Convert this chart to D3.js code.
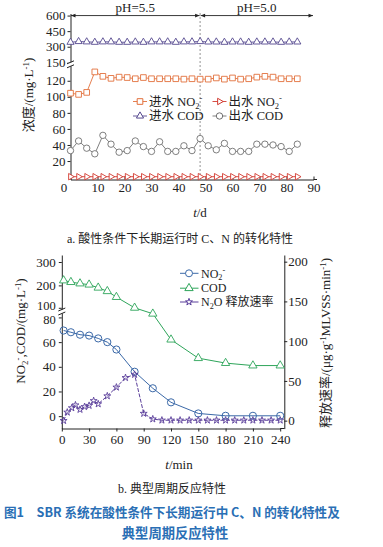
<!DOCTYPE html>
<html><head><meta charset="utf-8">
<script src="https://cdn.jsdelivr.net/npm/d3@7"></script>
<style>body{margin:0;background:#fff}svg{display:block}</style>
</head><body>
<svg id="c" width="383" height="547"></svg>
<script>
// ---------- data: panel a ----------
const days = [0,3,6,9,12,15,18,21,24,27,30,33,36,39,42,45,48,51,54,57,60,63,66,69,72,75,78,81,84];
const infNO2 = [104.5,103,105.5,131,125.5,123,124.5,124,122.5,124,122.5,122.5,122.5,122.5,122,122.5,122,122,123.5,122,123.5,122,122.5,124.5,125.5,124.5,122.5,122.5,122.5];
const effNO2 = [0.5,0.5,0.5,0.5,0.5,0.5,0.5,0.5,0.5,0.5,0.5,0.5,0.5,0.5,0.5,0.5,0.5,0.5,0.5,0.5,0.5,0.5,0.5,0.5,0.5,0.5,0.5,0.5,0.5];
const infCOD = [343,350,347,343,347,347,343,343,346,343,347,347,347,343,347,347,350,346,346,343,346,346,343,346,346,346,343,346,346];
const effCOD = [33,45,36,29,52,41,31,33,45,38,32,44,32,32,39,33,48,39,34,42,32,32,32,41,41,40,38,32,41];
const xTicksA = [0,10,20,30,40,50,60,70,80,90];
const yTicksA = [20,40,60,80,100,120,150,300,450,600];
const phSwitch = 48;
// ---------- data: panel b ----------
const tMin = [2,10,20,30,40,50,60,80,100,120,150,180,210,240];
const no2B = [69.4,68,66,65.3,63,60,54,36,22.6,11.2,2.2,0.3,0.3,0.3];
const codB = [221,214,208,203,190,175,150,104,83,62,47,43,41,41];
const tN2O = [2,6,11,15,20,25,30,35,40,50,60,70,80,90,100,110,120,130,140,150,160,170,180,190,200,210,220,230,240];
const n2oRate = [0,10.5,16,19.6,14,17.5,19,25,21,31,42,54,58,9,2,0.5,0.5,0.5,0.5,0.5,0.5,0.5,0.5,0.5,0.5,0.5,0.5,0.5,0.5];
const xTicksB = [0,30,60,90,120,150,180,210,240];
const yTicksBL = [0,20,40,60,80,100,200,300];
const yTicksBR = [0,50,100,150,200];

const FONT = '"Liberation Serif","Noto Sans CJK SC",serif';
const CJK = '"Liberation Serif","Noto Sans CJK SC",serif';
const TXT = '#222';
const svg = d3.select('#c');

function rich(t, parts, sub){
  let cur = 0;
  const sb = sub==null ? 3 : sub;
  parts.forEach(p=>{
    const [s, k] = Array.isArray(p) ? p : [p, 'n'];
    const tgt = k==='sub' ? sb : (k==='sup' ? -4.5 : 0);
    const ts = t.append('tspan').text(s).attr('dy', tgt-cur);
    if (k!=='n') ts.attr('font-size','0.68em');
    cur = tgt;
  });
  return t;
}
function styleAxis(g){
  g.attr('font-family',FONT).attr('font-size',13);
  g.selectAll('text').attr('fill',TXT);
  g.selectAll('line,path').attr('stroke','#222');
}
function brk(x,y){
  svg.append('rect').attr('x',x-3).attr('y',y-2).attr('width',6).attr('height',4).attr('fill','#fff');
  [y-2,y+2].forEach(yy=>svg.append('line').attr('x1',x-3.5).attr('x2',x+3.5).attr('y1',yy+1.5).attr('y2',yy-1.5).attr('stroke','#222').attr('stroke-width',1));
}

// ================= panel a =================
const xA = d3.scaleLinear().domain([0,90]).range([70.5,313.5]);
const yA = d3.scaleLinear().domain([-3,138,150,620]).range([179.5,66.3,62.3,13.5]);

const gxA = svg.append('g').attr('transform','translate(0,179.5)')
  .call(d3.axisBottom(xA).tickValues(xTicksA).tickSizeInner(-3).tickSizeOuter(0).tickPadding(3));
styleAxis(gxA);
gxA.selectAll('.tick').filter(d=>d===0).select('text').attr('x',-7);
svg.append('line').attr('x1',313.5).attr('x2',317).attr('y1',179.5).attr('y2',179.5).attr('stroke','#222');

const gyA = svg.append('g').attr('transform','translate(70.5,0)')
  .call(d3.axisLeft(yA).tickValues(yTicksA).tickSize(3).tickSizeOuter(0).tickPadding(2));
styleAxis(gyA);
brk(70.5,64.3);

// dashed switch line
svg.append('line').attr('x1',xA(phSwitch)).attr('x2',xA(phSwitch)).attr('y1',13).attr('y2',179)
  .attr('stroke','#777').attr('stroke-dasharray','2,2').attr('stroke-width',0.8);

// pH arrows
const defs = svg.append('defs');
defs.append('marker').attr('id','ah').attr('viewBox','0 0 10 10').attr('refX',10).attr('refY',5)
  .attr('markerWidth',7).attr('markerHeight',5).attr('orient','auto-start-reverse')
  .append('path').attr('d','M0,1 L10,5 L0,9 Z').attr('fill','#222');
const yArrow = yA(600);
[[0,phSwitch,'pH=5.5'],[phSwitch,90,'pH=5.0']].forEach(([a,b,lab])=>{
  svg.append('line').attr('x1',xA(a)+0.5).attr('x2',xA(b)-0.5).attr('y1',yArrow).attr('y2',yArrow)
    .attr('stroke','#222').attr('stroke-width',0.9).attr('marker-start','url(#ah)').attr('marker-end','url(#ah)');
  svg.append('text').attr('x',(xA(a)+xA(b))/2).attr('y',11.5).attr('text-anchor','middle')
    .attr('font-family',FONT).attr('font-size',13).attr('fill',TXT).text(lab);
});

const cA = {inN:'#e2703c', outN:'#d23a30', inC:'#55488f', outC:'#707070'};
function seriesA(vals, color){
  svg.append('path').datum(vals).attr('fill','none').attr('stroke',color).attr('stroke-width',0.9)
    .attr('d', d3.line().x((d,i)=>xA(days[i])).y(d=>yA(d)));
}
seriesA(effCOD, cA.outC);
seriesA(infCOD, cA.inC);
seriesA(infNO2, cA.inN);
seriesA(effNO2, cA.outN);

const sq = d3.symbol(d3.symbolSquare, 32)();
const tri = d3.symbol(d3.symbolTriangle, 22)();
const triR = d3.symbol(d3.symbolTriangle, 18)();
function marks(vals, xs, xsc, ysc, path, color, rot, fill){
  svg.append('g').selectAll('path').data(vals).join('path')
    .attr('d', path)
    .attr('transform',(d,i)=>`translate(${xsc(xs[i])},${ysc(d)}) rotate(${rot||0})`)
    .attr('fill', fill||'#fff').attr('stroke',color).attr('stroke-width',0.9);
}
marks(infCOD, days, xA, yA, tri, cA.inC);
marks(infNO2, days, xA, yA, sq, cA.inN);
marks(effNO2, days, xA, yA, triR, cA.outN, 90);
svg.append('g').selectAll('circle').data(effCOD).join('circle')
  .attr('cx',(d,i)=>xA(days[i])).attr('cy',d=>yA(d)).attr('r',3.2)
  .attr('fill','#fff').attr('stroke',cA.outC).attr('stroke-width',0.9);

// legend a
function legA(x, y, color, shape, parts){
  svg.append('line').attr('x1',x-7).attr('x2',x+7).attr('y1',y).attr('y2',y).attr('stroke',color).attr('stroke-width',0.9);
  if (shape==='c') svg.append('circle').attr('cx',x).attr('cy',y).attr('r',3.2).attr('fill','#fff').attr('stroke',color);
  else svg.append('path').attr('d',shape==='s'?sq:(shape==='r'?triR:tri))
    .attr('transform',`translate(${x},${y}) rotate(${shape==='r'?90:0})`).attr('fill','#fff').attr('stroke',color);
  rich(svg.append('text').attr('x',x+9).attr('y',y+4.3).attr('font-family',CJK).attr('font-size',12.5).attr('fill',TXT), parts);
}
legA(140,101.5,cA.inN,'s',['进水 NO',['2','sub'],['-','sup']]);
legA(140,116,cA.inC,'t',['进水 COD']);
legA(219.5,101.5,cA.outN,'r',['出水 NO',['2','sub'],['-','sup']]);
legA(219.5,116,cA.outC,'c',['出水 COD']);

// axis titles a
rich(svg.append('text').attr('transform','translate(33,95) rotate(-90)').attr('text-anchor','middle')
  .attr('font-family',CJK).attr('font-size',13).attr('fill',TXT), ['浓度/(mg·L',['-1','sup'],[')','n']]);
const tA = svg.append('text').attr('x',200).attr('y',217).attr('text-anchor','middle')
  .attr('font-family',FONT).attr('font-size',13).attr('fill',TXT);
tA.append('tspan').attr('font-style','italic').text('t');
tA.append('tspan').text('/d');
svg.append('text').attr('x',180).attr('y',243).attr('text-anchor','middle')
  .attr('font-family',CJK).attr('font-size',12).attr('fill',TXT).text('a. 酸性条件下长期运行时 C、N 的转化特性');

// ================= panel b =================
const xB = d3.scaleLinear().domain([0,240]).range([61.8,280.2]);
const yBL = d3.scaleLinear().domain([-10,84,330]).range([428.5,312.5,255]);
const yBR = d3.scaleLinear().domain([-10,208.4]).range([428.6,255]);

const gxB = svg.append('g').attr('transform','translate(0,428.5)')
  .call(d3.axisBottom(xB).tickValues(xTicksB).tickSizeInner(3).tickSizeOuter(0).tickPadding(3));
styleAxis(gxB);
svg.append('line').attr('x1',280.2).attr('x2',284.3).attr('y1',428.5).attr('y2',428.5).attr('stroke','#222');

const gyBL = svg.append('g').attr('transform','translate(61.8,0)')
  .call(d3.axisLeft(yBL).tickValues(yTicksBL.filter(v=>v!==100)).tickSize(3).tickSizeOuter(0).tickPadding(3));
styleAxis(gyBL);
gyBL.selectAll('.tick').filter(d=>d===80).select('text').attr('dy','0.5em').attr('font-size',12.5);
// "100" label sits right above the break
const g100 = gyBL.append('g').attr('class','tick').attr('transform',`translate(0,${yBL(102)})`);
g100.append('line').attr('x2',-3).attr('stroke','#222');
g100.append('text').attr('x',-6).attr('dy','0.1em').attr('font-size',12.5).attr('text-anchor','end').attr('fill',TXT).text('100');
brk(61.8,311.5);

const gyBR = svg.append('g').attr('transform','translate(284.3,0)')
  .call(d3.axisRight(yBR).tickValues(yTicksBR).tickSize(3).tickSizeOuter(0).tickPadding(1));
styleAxis(gyBR);

const cB = {no2:'#3b69a8', cod:'#2ea55a', n2o:'#5b3f9b'};
svg.append('path').datum(codB).attr('fill','none').attr('stroke',cB.cod).attr('stroke-width',1)
  .attr('d', d3.line().x((d,i)=>xB(tMin[i])).y(d=>yBL(d)));
svg.append('path').datum(no2B).attr('fill','none').attr('stroke',cB.no2).attr('stroke-width',1)
  .attr('d', d3.line().x((d,i)=>xB(tMin[i])).y(d=>yBL(d)));
svg.append('path').datum(n2oRate).attr('fill','none').attr('stroke',cB.n2o).attr('stroke-width',1)
  .attr('stroke-dasharray','4,1.5')
  .attr('d', d3.line().x((d,i)=>xB(tN2O[i])).y(d=>yBR(d)));

const triB = d3.symbol(d3.symbolTriangle, 30)();
const star = d3.symbol(d3.symbolStar, 15)();
marks(codB, tMin, xB, yBL, triB, cB.cod);
svg.append('g').selectAll('circle').data(no2B).join('circle')
  .attr('cx',(d,i)=>xB(tMin[i])).attr('cy',d=>yBL(d)).attr('r',3.6)
  .attr('fill','none').attr('stroke',cB.no2).attr('stroke-width',1);
marks(n2oRate, tN2O, xB, yBR, star, cB.n2o, 0, 'none');

// legend b
function legB(y, color, shape, parts, sub){
  svg.append('line').attr('x1',180).attr('x2',198.5).attr('y1',y).attr('y2',y).attr('stroke',color).attr('stroke-width',1);
  if (shape==='c') svg.append('circle').attr('cx',189).attr('cy',y).attr('r',3.5).attr('fill','#fff').attr('stroke',color);
  else svg.append('path').attr('d',shape==='t'?triB:star).attr('transform',`translate(189,${y})`)
    .attr('fill','#fff').attr('stroke',color);
  rich(svg.append('text').attr('x',201).attr('y',y+4.2).attr('font-family',CJK).attr('font-size',12).attr('fill',TXT), parts, sub);
}
legB(273.3,cB.no2,'c',['NO',['2','sub'],['-','sup']], 2);
legB(288.2,cB.cod,'t',['COD']);
legB(302,cB.n2o,'s',['N',['2','sub'],['O 释放速率','n']], 2.5);

rich(svg.append('text').attr('transform','translate(25,331) rotate(-90)').attr('text-anchor','middle')
  .attr('font-family',CJK).attr('font-size',13).attr('fill',TXT),
  ['NO',['2','sub'],['-','sup'],[',COD/(mg·L','n'],['-1','sup'],[')','n']]);
rich(svg.append('text').attr('transform','translate(330,343) rotate(-90)').attr('text-anchor','middle')
  .attr('font-family',CJK).attr('font-size',13).attr('fill',TXT),
  ['释放速率/(μg·g',['-1','sup'],['MLVSS·min','n'],['-1','sup'],[')','n']]);
const tB = svg.append('text').attr('x',179).attr('y',469).attr('text-anchor','middle')
  .attr('font-family',FONT).attr('font-size',13).attr('fill',TXT);
tB.append('tspan').attr('font-style','italic').text('t');
tB.append('tspan').text('/min');
svg.append('text').attr('x',172).attr('y',493).attr('text-anchor','middle')
  .attr('font-family',CJK).attr('font-size',12).attr('fill',TXT).text('b. 典型周期反应特性');

// figure caption
const CAP = '"Noto Sans CJK SC","DejaVu Sans",sans-serif';
svg.append('text').attr('x',4).attr('y',517).attr('font-family',CAP).attr('font-size',12.6).attr('font-weight','bold')
  .attr('fill','#2a6fb5').attr('xml:space','preserve').text('图1　SBR 系统在酸性条件下长期运行中 C、N 的转化特性及');
svg.append('text').attr('x',175).attr('y',538).attr('text-anchor','middle').attr('font-family',CAP).attr('font-size',13.3)
  .attr('font-weight','bold').attr('fill','#2a6fb5').text('典型周期反应特性');
</script>
</body></html>
